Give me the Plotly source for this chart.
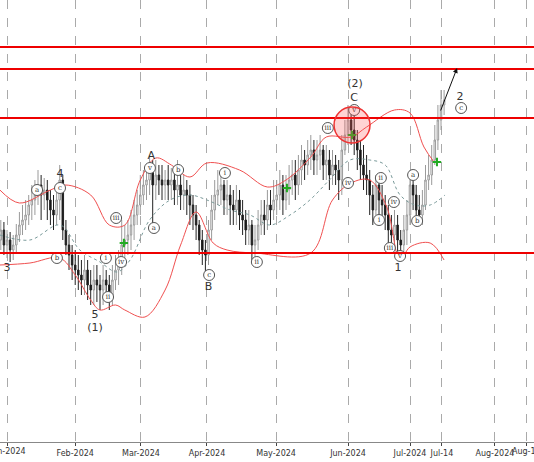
import plotly.graph_objects as go

days = list(range(-2, 142))
opens = [71.0,72.0,70.5,71.0,70.0,70.5,71.5,72.5,73.0,73.5,74.5,75.0,75.5,76.5,75.5,76.0,75.0,74.0,73.5,75.0,
         77.0,72.0,70.5,69.5,68.5,68.0,67.5,67.0,68.0,66.5,66.0,67.0,66.5,66.0,67.0,66.5,65.5,67.0,68.0,68.5,
         70.5,71.0,71.5,72.5,73.5,74.5,75.5,76.5,77.0,78.0,76.5,77.5,77.0,76.5,77.0,76.5,77.0,76.0,76.5,75.5,
         76.0,75.5,74.5,73.5,72.5,71.0,70.0,69.5,72.0,74.0,75.5,76.0,76.5,75.0,75.5,74.5,74.0,75.0,73.5,73.0,
         72.0,72.5,70.5,71.0,72.5,73.5,73.0,74.5,74.0,75.0,75.5,76.5,75.0,76.0,77.0,77.5,76.5,78.0,79.0,78.5,
         79.5,80.0,79.0,79.5,80.0,78.5,79.0,77.5,78.5,78.0,77.0,80.0,81.5,83.0,82.0,81.0,80.0,78.5,77.5,77.0,
         75.5,74.0,76.5,75.0,74.5,73.5,72.0,71.5,72.5,71.0,70.5,72.0,73.5,76.5,75.5,74.0,73.5,74.5,77.0,77.5,
         79.0,81.0,83.0,84.5]
closes = [72.0,70.5,71.0,70.0,70.5,71.5,72.5,73.0,73.5,74.5,75.0,75.5,76.5,75.5,76.0,75.0,74.0,73.5,75.0,77.0,
          72.0,70.5,69.5,68.5,68.0,67.5,67.0,68.0,66.5,66.0,67.0,66.5,66.0,67.0,66.5,65.5,67.0,68.0,68.5,70.5,
          71.0,71.5,72.5,73.5,74.5,75.5,76.5,77.0,78.0,76.5,77.5,77.0,76.5,77.0,76.5,77.0,76.0,76.5,75.5,76.0,
          75.5,74.5,73.5,72.5,71.0,70.0,69.5,72.0,74.0,75.5,76.0,76.5,75.0,75.5,74.5,74.0,75.0,73.5,73.0,72.0,
          72.5,70.5,71.0,72.5,73.5,73.0,74.5,74.0,75.0,75.5,76.5,75.0,76.0,77.0,77.5,76.5,78.0,79.0,78.5,79.5,
          80.0,79.0,79.5,80.0,78.5,79.0,77.5,78.5,78.0,77.0,80.0,81.5,83.0,82.0,81.0,80.0,78.5,77.5,77.0,75.5,
          74.0,76.5,75.0,74.5,73.5,72.0,71.5,72.5,71.0,70.5,72.0,73.5,76.5,75.5,74.0,73.5,74.5,77.0,77.5,79.0,
          81.0,83.0,84.5,85.0]
highs = [73.0,72.8,72.0,71.8,71.5,72.6,73.8,74.5,75.0,75.5,76.5,77.0,78.0,77.5,77.2,77.0,76.0,75.5,76.5,78.5,
         77.5,73.0,71.5,70.5,70.0,69.5,69.0,69.5,69.0,68.0,68.5,68.5,67.5,68.5,68.0,67.5,68.5,69.5,70.0,73.0,
         72.5,73.0,74.0,75.0,76.0,77.5,78.0,78.5,79.5,79.0,79.0,78.5,78.5,78.0,78.5,78.2,78.0,79.0,77.5,77.5,
         77.0,76.5,75.5,74.5,73.0,72.0,71.0,73.0,75.5,77.0,78.0,78.0,77.0,77.0,76.5,76.0,76.5,76.0,75.0,74.0,
         74.0,73.0,72.5,74.0,75.0,75.0,76.0,76.0,77.0,77.0,78.0,77.5,77.5,78.5,79.0,79.0,79.5,80.5,80.0,81.0,
         81.5,81.0,81.0,81.5,80.5,80.5,80.0,80.0,79.5,79.0,81.5,83.0,84.5,84.0,83.5,82.0,81.0,80.5,79.5,78.0,
         76.5,77.5,77.5,76.5,75.5,74.5,73.5,74.0,73.5,72.0,73.5,75.0,78.0,77.5,76.5,75.5,76.0,78.5,79.5,80.5,
         82.5,84.5,86.0,86.0]
lows = [70.0,69.5,69.2,68.8,69.0,69.8,70.8,71.5,72.0,72.5,73.0,73.5,74.5,73.0,74.0,73.0,72.5,72.0,72.5,73.0,
        71.0,69.5,68.0,67.0,66.5,66.0,65.5,65.5,65.0,64.5,64.5,64.8,64.0,64.5,65.0,64.0,64.5,66.0,66.5,67.5,
        69.0,69.5,70.0,71.0,72.5,73.5,74.5,75.0,75.5,72.0,75.0,75.5,75.0,75.0,75.0,75.0,74.5,74.5,74.0,74.0,
        73.5,72.5,72.0,71.0,69.5,68.5,67.5,68.5,71.0,73.0,74.5,74.5,73.5,73.5,72.5,72.5,72.5,72.0,71.5,70.5,
        70.5,69.0,69.0,70.0,71.5,71.5,72.0,72.5,73.0,73.5,74.0,73.5,74.0,74.5,75.5,75.0,75.5,76.5,77.0,77.5,
        78.0,77.5,77.5,78.0,77.0,77.0,76.0,76.5,76.5,75.0,75.5,79.5,80.5,80.5,79.5,78.0,77.0,76.0,75.5,73.5,
        72.5,73.5,73.5,73.0,72.0,70.5,70.0,70.0,69.5,69.0,69.5,70.5,72.5,74.0,72.5,72.5,72.5,74.0,76.0,76.5,
        78.5,80.0,82.0,83.5]
n = min(len(days), len(opens), len(closes), len(highs), len(lows))

upper_x = [-2.3,4,14,19,27,33,38,43,48,53,59,64.5,75,84,90,98,103,111,116,125,130,134.5,138]
upper_y = [76.0,74.7,76.0,76.5,75.5,72.5,72.5,77.0,79.2,78.5,77.3,78.7,78.0,76.3,77.0,79.3,81.3,81.3,82.3,84.0,83.7,80.3,78.7]
lower_x = [-2.3,7.4,17,22,27,30,35,38,44.5,51,56,61,66.5,71,80,98,105,111,117,122.5,126.8,130,136.5,141]
lower_y = [68.5,68.7,69.2,67.5,65.0,64.0,64.5,64.0,63.3,66.0,70.5,73.8,70.7,70.0,69.7,69.7,75.0,76.7,77.0,74.3,69.0,70.3,70.7,69.0]
mid_x = [-2.3,7.4,17.1,23.5,30,35.5,39.7,46,52.6,59,64.5,72,78.4,84.8,91.3,97.7,104,110.6,117,122,126.8,131.6,136.5,141.3]
mid_y = [71.5,71.0,72.5,70.0,68.8,67.8,69.0,73.0,75.0,75.5,75.0,74.0,73.5,72.5,73.5,75.0,77.0,79.0,79.0,78.5,75.5,74.5,74.5,75.5]

levels = [90.3, 88.1, 83.2, 69.7]
tick_vals = [0, 22, 43.2, 64.5, 86.8, 110, 130, 140.3, 157.4, 167.7]
tick_text = ["Jan-2024", "Feb-2024", "Mar-2024", "Apr-2024", "May-2024", "Jun-2024", "Jul-2024", "Jul-14", "Aug-2024", "Aug-14"]

plain_x = [0, 17.1, 28.4, 28.4, 46.5, 65, 112.3, 112, 126.1, 146.1]
plain_y = [68.2, 77.6, 63.5, 62.2, 79.4, 66.3, 86.6, 85.2, 68.2, 85.3]
plain_t = ["3", "4", "5", "(1)", "A", "B", "(2)", "C", "1", "2"]
circ_x = [9.7, 17.1, 16.1, 31.9, 32.6, 35.2, 36.8, 46.1, 47.4, 55.2, 65.2, 70.3, 80.6, 103.5, 110, 112, 120.6, 120, 124.8, 123.5, 126.8, 131.0, 132.3, 146.5]
circ_y = [76.0, 76.2, 69.2, 69.2, 65.3, 73.2, 68.8, 78.2, 72.2, 78.0, 67.5, 77.7, 68.8, 82.2, 76.7, 84.0, 77.2, 73.0, 74.8, 70.2, 69.4, 77.5, 72.9, 84.2]
circ_t = ["a", "c", "b", "i", "ii", "iii", "iv", "v", "a", "b", "c", "i", "ii", "iii", "iv", "v", "ii", "i", "iv", "iii", "v", "a", "b", "c"]
green_x = [37.7, 90.3, 111.3, 138.7]
green_y = [70.7, 76.2, 81.5, 78.8]

fig = go.Figure()
for lv in levels:
    fig.add_hline(y=lv, line=dict(color="#ee0000", width=2))
fig.add_trace(go.Scatter(x=upper_x, y=upper_y, mode="lines", line=dict(color="#f05050", width=1, shape="spline")))
fig.add_trace(go.Scatter(x=lower_x, y=lower_y, mode="lines", line=dict(color="#f05050", width=1, shape="spline")))
fig.add_trace(go.Scatter(x=mid_x, y=mid_y, mode="lines", line=dict(color="#7a9a9a", width=1, dash="dot", shape="spline")))
fig.add_trace(go.Candlestick(x=days[:n], open=opens[:n], high=highs[:n], low=lows[:n], close=closes[:n],
                             increasing=dict(line=dict(color="#9a9a9a", width=1), fillcolor="#ffffff"),
                             decreasing=dict(line=dict(color="#222222", width=1), fillcolor="#111111"),
                             whiskerwidth=0))
fig.add_trace(go.Scatter(x=green_x, y=green_y, mode="markers",
                         marker=dict(symbol="cross-thin", size=6, line=dict(color="#22aa22", width=2))))
fig.add_trace(go.Scatter(x=circ_x, y=circ_y, mode="markers+text", text=circ_t, textposition="middle center",
                         textfont=dict(size=7, color="#333", family="DejaVu Serif"),
                         marker=dict(symbol="circle", size=11, color="white", line=dict(color="#555", width=1))))
fig.add_trace(go.Scatter(x=plain_x, y=plain_y, mode="text", text=plain_t,
                         textfont=dict(size=11, color="#333", family="DejaVu Sans")))
fig.add_shape(type="circle", xref="x", yref="y", x0=111.3 - 5.8, x1=111.3 + 5.8, y0=82.5 - 1.8, y1=82.5 + 1.8,
              fillcolor="rgba(255,80,80,0.25)", line=dict(color="#ee3333", width=1.5), layer="above")
fig.add_annotation(x=145.2, y=88.2, ax=139.7, ay=83.8, xref="x", yref="y", axref="x", ayref="y",
                   showarrow=True, arrowhead=2, arrowsize=1, arrowwidth=1, arrowcolor="#111", text="")
for tv, tt in [(tick_vals[0], tick_text[0]), (tick_vals[-1], tick_text[-1])]:
    fig.add_annotation(x=tv, y=0, xref="x", yref="paper", yanchor="top", yshift=-3, showarrow=False,
                       text=tt, font=dict(size=8, color="#333", family="DejaVu Sans"))

fig.update_layout(width=534, height=462, margin=dict(l=0, r=0, t=0, b=20, autoexpand=False), showlegend=False,
                  plot_bgcolor="white", paper_bgcolor="white",
                  xaxis=dict(range=[-2.26, 170], tickvals=tick_vals, ticktext=tick_text, showgrid=True,
                             gridcolor="#aaaaaa", griddash="dash", gridwidth=1, rangeslider=dict(visible=False),
                             tickfont=dict(size=8, color="#333", family="DejaVu Sans"), ticks="outside", ticklen=3,
                             showline=True, linecolor="#888", zeroline=False, automargin=False),
                  yaxis=dict(range=[50.8, 95], showticklabels=False, showgrid=False, zeroline=False, automargin=False))
fig.write_html("out.html", config={"displayModeBar": False},
               post_script="document.body.style.margin='0';document.body.style.overflow='hidden';")
